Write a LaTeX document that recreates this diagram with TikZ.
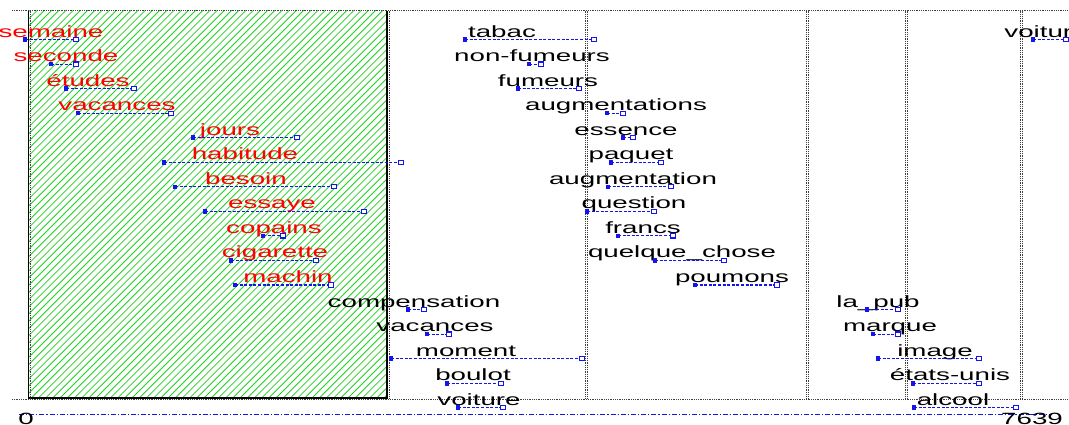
\documentclass[tikz,border=0pt]{standalone}
\usepackage{fontspec}
\newfontfamily\lab[FakeStretch=1.7]{Liberation Sans}
\definecolor{hatchgreen}{RGB}{30,210,30}
\definecolor{segblue}{RGB}{20,20,240}
\begin{document}
\begin{tikzpicture}[x=1pt,y=-1pt,
  lbl/.style={anchor=base, inner sep=0pt, font=\lab\fontsize{16.3}{16}\selectfont},
  seg/.style={segblue, line width=1.1pt, dash pattern=on 3pt off 1.6pt},
  mfill/.style={rectangle, fill=segblue, minimum size=4.6pt, inner sep=0pt},
  mopen/.style={rectangle, draw=segblue, fill=white, line width=1.1pt, minimum size=4.2pt, inner sep=0pt},
  frame/.style={densely dotted, line width=0.8pt, black!75},
  axis/.style={segblue, line width=1pt, dash pattern=on 5pt off 2pt on 1.2pt off 2pt}]
\useasboundingbox (0,0) rectangle (1069,424);
\clip (0,0) rectangle (1069,424);
% hatched zone
\begin{scope}
  \clip (28.5,10.5) rectangle (387,398);
  \foreach \o in {-400,-392.8,...,400}
    \draw[hatchgreen, line width=0.8pt] (28+\o,398) -- ++(400,-400);
\end{scope}
\draw[black, line width=1.2pt] (28.5,10.5) -- (28.5,398) -- (387,398) -- (387,10.5);
% dotted frame
\draw[frame] (12,10.5) -- (1069,10.5);
\draw[frame] (12,399) -- (1069,399);
\foreach \x in {30,389,585,587,806,808,905,907,1020,1022}
  \draw[frame] (\x,10.5) -- (\x,399);
% axis
\coordinate (ax0) at (19,414);
\coordinate (ax1) at (1052,414);
\draw[axis] (ax0) -- (ax1);
\node[lbl] (n0) at (26,424.5) {0};
\node[lbl] (n7639) at (1032,424.5) {7639};
% labels and intervals
\foreach \n/\t/\c/\r/\s/\e/\col in {
  r1/semaine/51/1/25/76/red,
  r2/seconde/66/2/51/76/red,
  r3/études/88/3/66/134/red,
  r4/vacances/117/4/78/171/red,
  r5/jours/230/5/193/297/red,
  r6/habitude/245/6/164/401/red,
  r7/besoin/246/7/175/334/red,
  r8/essaye/272/8/205/364/red,
  r9/copains/274/9/263/283/red,
  r10/cigarette/275/10/231/316/red,
  r11/machin/288/11/235/331/red,
  b1/tabac/502/1/465/594/black,
  b2/non-fumeurs/532/2/529/541/black,
  b3/fumeurs/548/3/518/579/black,
  b4/augmentations/616/4/607/623/black,
  b5/essence/626/5/623/633/black,
  b6/paquet/631/6/611/661/black,
  b7/augmentation/633/7/608/671/black,
  b8/question/634/8/587/654/black,
  b9/francs/643/9/618/673/black,
  b10/quelque\_chose/682/10/655/724/black,
  b11/poumons/732/11/695/777/black,
  b12/compensation/414/12/408/424/black,
  b13/vacances/435/13/427/449/black,
  b14/moment/466/14/391/582/black,
  b15/boulot/473/15/447/501/black,
  b16/voiture/479/16/458/503/black,
  c12/la\_pub/878/12/867/898/black,
  c13/marque/890/13/873/898/black,
  c14/image/935/14/878/979/black,
  c15/états-unis/950/15/913/979/black,
  c16/alcool/953/16/914/1016/black,
  d1/voiture/1046/1/1033/1066/black}
{
  \pgfmathsetmacro\yy{39.5+(\r-1)*24.55}
  \node[lbl, text=\col] (\n) at (\c,\yy-2.5) {\t};
  \coordinate (\n-a) at (\s,\yy);
  \coordinate (\n-b) at (\e,\yy);
  \draw[seg] (\n-a) -- (\n-b);
  \node[mfill] (\n-ma) at (\n-a) {};
  \node[mopen] (\n-mb) at (\n-b) {};
}
\end{tikzpicture}
\end{document}
